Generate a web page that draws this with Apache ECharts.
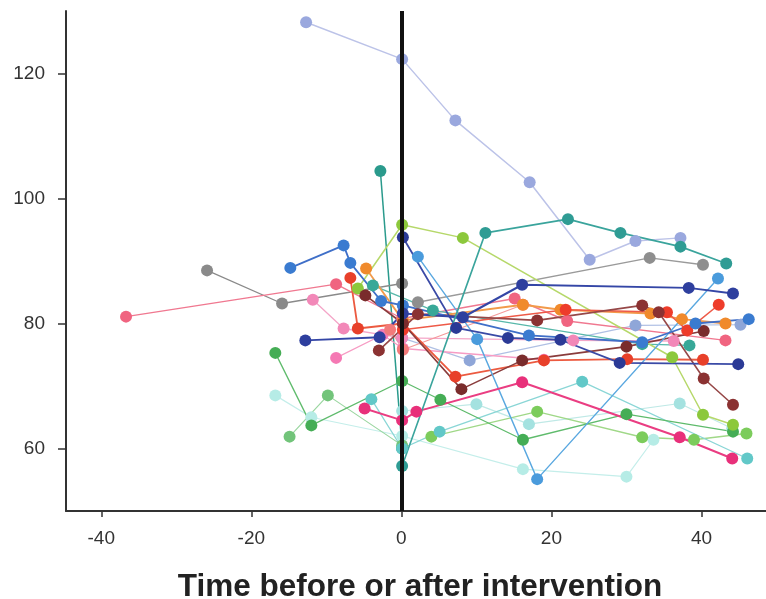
<!DOCTYPE html>
<html>
<head>
<meta charset="utf-8">
<script src="https://cdn.jsdelivr.net/npm/echarts@6/dist/echarts.min.js"></script>
<style>
  html, body { margin: 0; padding: 0; background: #fff; }
  #main { width: 766px; height: 599px; }
</style>
</head>
<body>
<div id="main"></div>
<script>
var chartDom = document.getElementById('main');
var myChart = echarts.init(chartDom);
var option;

// tick labels
const xTicks = [-40, -20, 0, 20, 40];
const yTicks = [60, 80, 100, 120];

// each subject: [time, value]
const lavender = [[-12.7, 128.2], [0.1, 122.3], [7.2, 112.5], [17.1, 102.6], [25.1, 90.2], [31.2, 93.2], [37.2, 93.7]];
const tealDash = [[0.1, 57.2], [11.2, 94.5], [22.2, 96.7], [29.2, 94.5], [37.2, 92.3], [43.3, 89.6]];
const tealDrop = [[-2.8, 104.4], [0.1, 60]];
const grayA = [[-25.9, 88.5], [-15.9, 83.2], [0.1, 86.4]];
const grayB = [[2.2, 83.4], [33.1, 90.5], [40.2, 89.4]];
const midBlue = [[-14.8, 88.9], [-7.7, 92.5], [-6.8, 89.7], [-2.7, 83.6], [0.2, 82.9], [17, 78.1], [32.1, 77], [39.2, 80], [46.3, 80.7]];
const navyA = [[-12.8, 77.3], [-2.9, 77.8], [0.2, 81.6], [8.2, 81], [16.1, 86.2], [38.3, 85.7], [44.2, 84.8]];
const navyB = [[0.2, 93.8], [7.3, 79.3], [14.2, 77.7], [21.2, 77.4], [29.1, 73.7], [44.9, 73.5]];
const skyBlue = [[2.2, 90.7], [10.1, 77.5], [18.1, 55.1], [42.2, 87.2]];
const lime = [[-5.8, 85.6], [0.1, 95.8], [8.2, 93.7], [36.1, 74.6], [40.2, 65.4], [44.2, 63.8]];
const orange = [[-4.7, 88.8], [0.2, 80.5], [16.2, 83], [21.2, 82.2], [33.2, 81.6], [37.4, 80.7], [43.2, 80]];
const redA = [[-6.8, 87.3], [-5.8, 79.2], [0.2, 80], [7.2, 71.5], [19, 74.1], [30.1, 74.3], [40.2, 74.2]];
const redB = [[0.2, 79], [21.9, 82.2], [35.4, 81.8], [38.1, 78.9], [42.3, 83]];
const pinkRed = [[-36.7, 81.1], [-8.7, 86.3], [0.1, 80.8], [15.1, 84], [22.1, 80.4], [43.2, 77.3]];
const pinkA = [[-11.8, 83.8], [-7.7, 79.2], [0.1, 77.7], [22.9, 77.3], [36.3, 77.2]];
const pinkB = [[-8.7, 74.5], [-2.5, 78.2], [0.2, 76], [19, 74.2]];
const brownA = [[-4.8, 84.5], [0.2, 80], [8, 69.5], [16.1, 74.1], [30, 76.3], [40.3, 78.8]];
const brownB = [[-3, 75.7], [2.2, 81.5], [18.1, 80.5], [32.1, 82.9], [34.3, 81.8], [40.3, 71.2], [44.2, 67]];
const magenta = [[-4.9, 66.4], [0.1, 64.5], [2, 65.9], [16.1, 70.6], [37.1, 61.8], [44.1, 58.4]];
const greenA = [[-16.8, 75.3], [-12, 63.7], [0.1, 70.8], [5.2, 67.8], [16.2, 61.4], [30, 65.5], [44.2, 62.7]];
const greenB = [[-14.9, 61.9], [-9.8, 68.5], [0.1, 60.5]];
const greenC = [[4, 61.9], [18.1, 65.9], [32.1, 61.8], [39, 61.4], [46, 62.4]];
const cyan = [[-4, 67.9], [0.1, 60], [5.1, 62.7], [24.1, 70.7], [46.1, 58.4]];
const paleCyanA = [[-16.8, 68.5], [-12, 65], [0.1, 62], [16.2, 56.7], [30, 55.5], [33.6, 61.4]];
const paleCyanB = [[0.1, 66], [10, 67.1], [17, 63.9], [37.1, 67.2], [44.1, 63.2]];
const steel = [[0.1, 77.7], [9.1, 74.1], [31.2, 79.7], [45.2, 79.8]];
const tealB = [[-3.8, 86.1], [4.2, 82.1], [32.1, 76.7], [38.4, 76.5]];
const salmon = [[-1.5, 79], [0.2, 75.8], [16.2, 83]];

const subjects = [
  ['lavender', lavender, '#9aa8de', '#bcc3e8', 1.5],
  ['tealDrop', tealDrop, '#2a9a8c', '#2a9a8c', 1.5],
  ['grayA', grayA, '#8a8a8a', '#8a8a8a', 1.3],
  ['grayB', grayB, '#8e8e8e', '#9a9a9a', 1.3],
  ['paleCyanA', paleCyanA, '#b6ece6', '#c4eeea', 1.2],
  ['paleCyanB', paleCyanB, '#a4e2e0', '#bfe9e6', 1.2],
  ['greenB', greenB, '#72c47a', '#9ad6a0', 1.2],
  ['greenC', greenC, '#7ccc5c', '#a0d888', 1.3],
  ['cyan', cyan, '#62c8c8', '#8ad6d6', 1.3],
  ['greenA', greenA, '#45ad55', '#5fbb6c', 1.3],
  ['steel', steel, '#8fa6d8', '#b0c0e4', 1.2],
  ['pinkA', pinkA, '#f288b8', '#f4a6c8', 1.3],
  ['pinkB', pinkB, '#f579b4', '#f79cc4', 1.3],
  ['salmon', salmon, '#f27a7a', '#f49a9a', 1.2],
  ['pinkRed', pinkRed, '#f06480', '#f07890', 1.4],
  ['tealB', tealB, '#38a898', '#58b8aa', 1.3],
  ['lime', lime, '#8cc83c', '#b6d86a', 1.5],
  ['orange', orange, '#f08a2c', '#f29a4a', 1.8],
  ['redB', redB, '#ee3c2a', '#ee5a48', 1.6],
  ['redA', redA, '#e8402a', '#ec5a40', 1.8],
  ['brownA', brownA, '#7a2c2c', '#8a3c3c', 1.6],
  ['brownB', brownB, '#8b3232', '#964848', 1.6],
  ['skyBlue', skyBlue, '#4a9bdc', '#5aa8e0', 1.4],
  ['midBlue', midBlue, '#3a7bd0', '#3f6fc8', 1.8],
  ['navyB', navyB, '#2b3a96', '#3a4aa6', 1.8],
  ['navyA', navyA, '#2e3f9e', '#3446a6', 2],
  ['magenta', magenta, '#e8307a', '#ea3d82', 2],
  ['tealDash', tealDash, '#2f9c94', '#3aa49c', 1.6]
];

const series = [{
  type: 'line',
  data: [],
  z: 1,
  silent: true,
  markLine: {
    silent: true,
    symbol: 'none',
    label: { show: false },
    lineStyle: { color: '#111', width: 4, type: 'solid' },
    data: [{ xAxis: 0 }]
  }
}];

subjects.forEach(function (s) {
  series.push({
    name: s[0],
    type: 'line',
    data: s[1],
    z: 3,
    symbol: 'circle',
    symbolSize: 12,
    showSymbol: true,
    itemStyle: { color: s[2] },
    lineStyle: { color: s[3], width: s[4] },
    emphasis: { disabled: true }
  });
});

option = {
  animation: false,
  grid: { left: 66, right: 0, top: 11, bottom: 88, outerBoundsMode: 'none', containLabel: false },
  xAxis: {
    type: 'value',
    min: -44.7,
    max: 48.6,
    name: 'Time before or after intervention',
    nameLocation: 'middle',
    nameGap: 60,
    nameTextStyle: {
      fontFamily: 'Liberation Sans',
      fontWeight: 'bold',
      fontSize: 31.5,
      color: '#222',
      padding: [0, 0, 0, 8]
    },
    axisLine: { show: true, onZero: false, lineStyle: { color: '#333', width: 2 } },
    axisTick: { show: true, length: 6, customValues: xTicks, lineStyle: { color: '#333', width: 1.5 } },
    axisLabel: { customValues: xTicks, margin: 18, fontFamily: 'Liberation Sans', fontSize: 19, color: '#333' },
    splitLine: { show: false }
  },
  yAxis: {
    type: 'value',
    min: 50,
    max: 130,
    axisLine: { show: true, onZero: false, lineStyle: { color: '#333', width: 2 } },
    axisTick: { show: true, length: 8, customValues: yTicks, lineStyle: { color: '#333', width: 1.5 } },
    axisLabel: { customValues: yTicks, margin: 21, fontFamily: 'Liberation Sans', fontSize: 19, color: '#333' },
    splitLine: { show: false }
  },
  series: series
};

option && myChart.setOption(option);
</script>
</body>
</html>
